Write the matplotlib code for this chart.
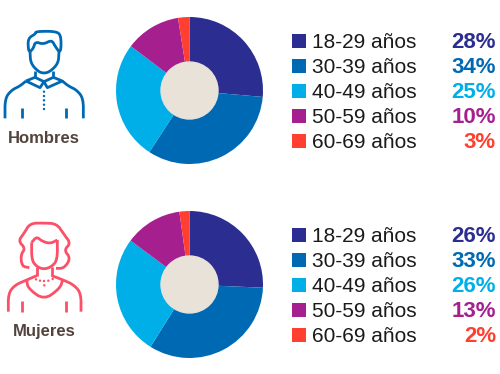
import numpy as np
import matplotlib
matplotlib.use("Agg")
import matplotlib.pyplot as plt
from matplotlib.patches import Circle, Rectangle

W, H = 500, 374

# Data
age_groups = ["18-29 años", "30-39 años", "40-49 años", "50-59 años", "60-69 años"]
colors = ["#2B2D91", "#0069B4", "#00AEE8", "#A61F8E", "#FF3F30"]
# the slices of the upper pie are not drawn to its printed labels
hombres_slices = [26.4, 32.8, 26.1, 12.2, 2.5]
hombres_labels = [28, 34, 25, 10, 3]
mujeres_slices = [25.7, 33.2, 26.3, 12.6, 2.2]
mujeres_labels = [26, 33, 26, 13, 2]

BLUE_ICON = "#0069B4"
PINK_ICON = "#FB5068"
HOLE = "#E9E2D9"
BROWN = "#53433C"
FONT = "Liberation Sans"


def smooth(points, n=2):
    # Chaikin corner cutting, keeps the end points
    pts = np.array(points, dtype=float)
    for _ in range(n):
        q = 0.75 * pts[:-1] + 0.25 * pts[1:]
        r = 0.25 * pts[:-1] + 0.75 * pts[1:]
        mid = np.empty((2 * len(q), 2))
        mid[0::2] = q
        mid[1::2] = r
        pts = np.vstack([pts[0], mid, pts[-1]])
    return pts


def draw_pie(fig, cx, cy, r, values):
    ax = fig.add_axes([(cx - r) / W, 1 - (cy + r) / H, 2 * r / W, 2 * r / H])
    ax.pie(values, colors=colors, startangle=90, counterclock=False,
           wedgeprops={"clip_on": False, "linewidth": 0})
    ax.add_patch(Circle((0, 0), 28.5 / r, color=HOLE, zorder=5, clip_on=False))
    ax.set_xlim(-1, 1)
    ax.set_ylim(-1, 1)
    ax.axis("off")


def draw_legend(ax, top, labels):
    for i, name in enumerate(age_groups):
        y = top + i * 24.9
        ax.add_patch(Rectangle((291.5, y - 7), 14, 14, color=colors[i], lw=0))
        ax.text(312, y + 7, name, fontsize=15, color="#1A1A1A", family=FONT,
                ha="left", va="baseline")
        ax.text(496, y + 7, f"{labels[i]}%", fontsize=16, color=colors[i], family=FONT,
                fontweight="bold", ha="right", va="baseline")


def icon_line(ax, points, color, off_y, curved=False):
    pts = smooth(points) if curved else np.array(points, dtype=float)
    ax.plot(pts[:, 0] / 3, pts[:, 1] / 3 + off_y, color=color, lw=2.0,
            solid_capstyle="butt", solid_joinstyle="round")


def draw_man(ax):
    c, o = BLUE_ICON, 10
    icon_line(ax, [(90, 125), (85, 120), (84, 85), (106, 72), (108, 64), (170, 64),
                   (183, 78), (183, 120), (177, 125)], c, o, True)
    icon_line(ax, [(90, 125), (100, 115), (106, 95), (130, 103), (155, 90), (165, 108), (177, 125)], c, o, True)
    icon_line(ax, [(90, 125), (92, 160), (115, 185), (132, 190), (150, 185), (175, 160), (177, 125)], c, o, True)
    icon_line(ax, [(105, 183), (105, 202)], c, o)
    icon_line(ax, [(160, 183), (160, 202)], c, o)
    icon_line(ax, [(78, 213), (105, 202), (132, 215), (120, 233), (78, 213)], c, o)
    icon_line(ax, [(132, 215), (160, 202), (187, 213), (142, 233), (132, 215)], c, o)
    icon_line(ax, [(78, 213), (60, 228), (35, 240), (15, 265), (15, 325)], c, o, True)
    icon_line(ax, [(187, 213), (205, 228), (230, 240), (250, 265), (250, 325)], c, o, True)
    icon_line(ax, [(66, 295), (66, 325)], c, o)
    icon_line(ax, [(199, 295), (199, 325)], c, o)
    for y in [245, 258, 271, 284, 297]:
        ax.add_patch(Circle((132 / 3, y / 3 + o), 1.2, color=c, lw=0))


def draw_woman(ax):
    c, o = PINK_ICON, 205
    icon_line(ax, [(88, 188), (66, 184), (62, 150), (76, 130), (55, 108), (72, 85), (90, 55), (130, 54),
                   (170, 56), (192, 88), (212, 115), (192, 135), (212, 160), (192, 190), (168, 190)], c, o, True)
    icon_line(ax, [(95, 112), (95, 165), (110, 185), (132, 193), (155, 185), (172, 165), (172, 105)], c, o, True)
    icon_line(ax, [(95, 112), (110, 95), (125, 108), (150, 116), (172, 105)], c, o, True)
    icon_line(ax, [(110, 185), (110, 212)], c, o)
    icon_line(ax, [(155, 185), (155, 212)], c, o)
    icon_line(ax, [(110, 212), (80, 225), (45, 240), (25, 265), (25, 320)], c, o, True)
    icon_line(ax, [(155, 212), (190, 225), (222, 240), (243, 265), (243, 320)], c, o, True)
    icon_line(ax, [(80, 225), (84, 250), (132, 285), (180, 250), (188, 225)], c, o, True)
    icon_line(ax, [(66, 288), (66, 320)], c, o)
    icon_line(ax, [(199, 288), (199, 320)], c, o)
    for x, y in [(108, 223), (120, 227), (132, 228), (145, 227), (158, 222), (133, 241)]:
        ax.add_patch(Circle((x / 3, y / 3 + o), 1.2, color=c, lw=0))


fig = plt.figure(figsize=(W / 100, H / 100), dpi=100, facecolor="white")

draw_pie(fig, 189.5, 90.5, 73.5, hombres_slices)
draw_pie(fig, 189.5, 284.5, 73.5, mujeres_slices)

# overlay in pixel coordinates for icons and legends
over = fig.add_axes([0, 0, 1, 1])
over.set_xlim(0, W)
over.set_ylim(H, 0)
over.axis("off")
over.patch.set_alpha(0)

draw_man(over)
draw_woman(over)
over.text(44, 143, "Hombres", fontsize=12, fontweight="bold", color=BROWN, family=FONT,
          ha="center", va="baseline")
over.text(44, 336, "Mujeres", fontsize=12, fontweight="bold", color=BROWN, family=FONT,
          ha="center", va="baseline")

draw_legend(over, 41, hombres_labels)
draw_legend(over, 235, mujeres_labels)

fig.savefig("out.png", dpi=100)
